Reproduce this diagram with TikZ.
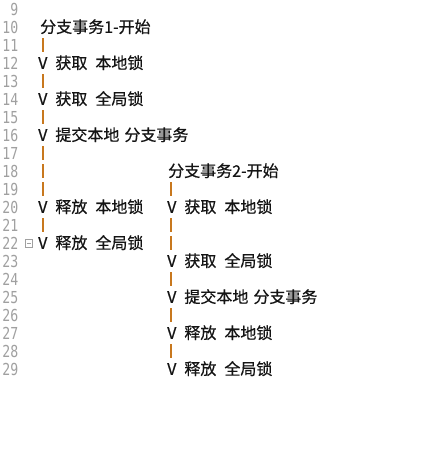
\documentclass[tikz,border=0pt]{standalone}
\usepackage{fontspec}
\newfontfamily\cjk[FakeBold=0.6]{Noto Sans CJK SC}
\newfontfamily\numfont[FakeStretch=0.8]{DejaVu Sans Mono}
\usepackage{tikz}

\definecolor{linenum}{HTML}{A0A0A0}
\definecolor{barcol}{HTML}{C8781E}
\definecolor{codetxt}{HTML}{141414}

\tikzset{
  lnum/.style={anchor=base east, inner sep=0pt, text=linenum,
    font=\numfont\fontsize{16.5pt}{16.5pt}\selectfont},
  code/.style={anchor=base west, inner sep=0pt, text=codetxt,
    font=\cjk\fontsize{16pt}{16pt}\selectfont},
  bar/.style={draw=barcol, line width=2pt},
}
\newcommand{\gapsp}{\hspace{8pt}}

\begin{document}
\begin{tikzpicture}[x=1pt, y=-1pt]
        \useasboundingbox[fill=white] (0,0) rectangle (433,450);
        % line numbers
        \foreach \n in {9,...,29}
          \node[lnum] (n\n) at (18.5, {9+(\n-9)*18+6}) {\n};
        % branch 1
        \node[code] (a10) at (40, 32.8) {分支事务1-开始};
        \node[code] (a12) at (38, 68.8) {V\gapsp 获取\gapsp 本地锁};
        \node[code] (a14) at (38, 104.8) {V\gapsp 获取\gapsp 全局锁};
        \node[code] (a16) at (38, 140.8) {V\gapsp 提交本地\hspace{5pt}分支事务};
        \node[code] (a20) at (38, 212.8) {V\gapsp 释放\gapsp 本地锁};
        \node[code] (a22) at (38, 248.8) {V\gapsp 释放\gapsp 全局锁};
        \foreach \n in {11,13,15,17,18,19,21}
          \draw[bar] (43, {9+(\n-9)*18-7}) -- (43, {9+(\n-9)*18+7});
        % fold marker
        \draw[linenum, line width=0.8pt] (25.5,239) rectangle (32.5,247);
        \draw[linenum, line width=0.8pt] (27,243) -- (31,243);
        % branch 2
        \node[code] (b18) at (168, 176.8) {分支事务2-开始};
        \node[code] (b20) at (167, 212.8) {V\gapsp 获取\gapsp 本地锁};
        \node[code] (b23) at (167, 266.8) {V\gapsp 获取\gapsp 全局锁};
        \node[code] (b25) at (167, 302.8) {V\gapsp 提交本地\hspace{5pt}分支事务};
        \node[code] (b27) at (167, 338.8) {V\gapsp 释放\gapsp 本地锁};
        \node[code] (b29) at (167, 374.8) {V\gapsp 释放\gapsp 全局锁};
        \foreach \n in {19,21,22,24,26,28}
          \draw[bar] (171, {9+(\n-9)*18-7}) -- (171, {9+(\n-9)*18+7});
      \end{tikzpicture}
\end{document}
